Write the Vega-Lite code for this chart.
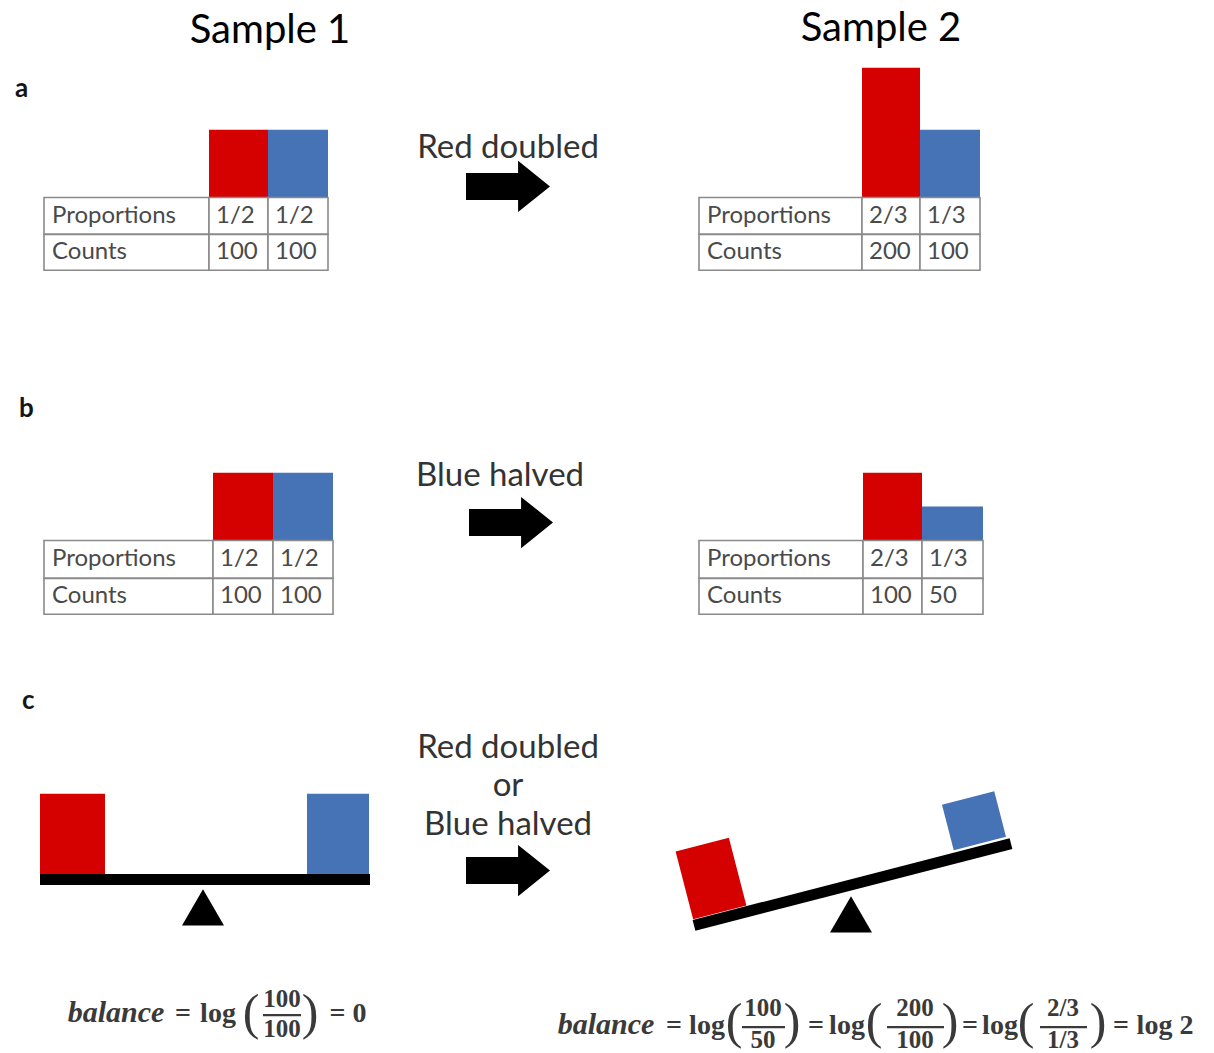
{
  "$schema": "https://vega.github.io/schema/vega-lite/v6.json",
  "width": 1214,
  "height": 1053,
  "autosize": {"type": "fit", "contains": "padding"},
  "padding": 0,
  "background": "white",
  "config": {"view": {"stroke": null}},
  "datasets": {
    "bars": [
      {"panel": "a", "sample": 1, "series": "red", "x": 209, "x2": 268, "y": 130, "y2": 198},
      {"panel": "a", "sample": 1, "series": "blue", "x": 268, "x2": 328, "y": 130, "y2": 198},
      {"panel": "a", "sample": 2, "series": "red", "x": 862, "x2": 920, "y": 68, "y2": 198},
      {"panel": "a", "sample": 2, "series": "blue", "x": 920, "x2": 980, "y": 130, "y2": 198},
      {"panel": "b", "sample": 1, "series": "red", "x": 213, "x2": 273, "y": 474, "y2": 542},
      {"panel": "b", "sample": 1, "series": "blue", "x": 273, "x2": 333, "y": 474, "y2": 542},
      {"panel": "b", "sample": 2, "series": "red", "x": 863, "x2": 922, "y": 474, "y2": 542},
      {"panel": "b", "sample": 2, "series": "blue", "x": 922, "x2": 983, "y": 508, "y2": 542},
      {"panel": "c", "sample": 1, "series": "red", "x": 40, "x2": 105, "y": 796, "y2": 877},
      {"panel": "c", "sample": 1, "series": "blue", "x": 307, "x2": 369, "y": 796, "y2": 877}
    ],
    "cells": [
      {"x": 44, "x2": 209, "y": 198, "y2": 235}, {"x": 209, "x2": 268, "y": 198, "y2": 235}, {"x": 268, "x2": 328, "y": 198, "y2": 235},
      {"x": 44, "x2": 209, "y": 235, "y2": 271}, {"x": 209, "x2": 268, "y": 235, "y2": 271}, {"x": 268, "x2": 328, "y": 235, "y2": 271},
      {"x": 699, "x2": 862, "y": 198, "y2": 235}, {"x": 862, "x2": 920, "y": 198, "y2": 235}, {"x": 920, "x2": 980, "y": 198, "y2": 235},
      {"x": 699, "x2": 862, "y": 235, "y2": 271}, {"x": 862, "x2": 920, "y": 235, "y2": 271}, {"x": 920, "x2": 980, "y": 235, "y2": 271},
      {"x": 44, "x2": 213, "y": 542, "y2": 580}, {"x": 213, "x2": 273, "y": 542, "y2": 580}, {"x": 273, "x2": 333, "y": 542, "y2": 580},
      {"x": 44, "x2": 213, "y": 580, "y2": 616}, {"x": 213, "x2": 273, "y": 580, "y2": 616}, {"x": 273, "x2": 333, "y": 580, "y2": 616},
      {"x": 699, "x2": 863, "y": 542, "y2": 580}, {"x": 863, "x2": 922, "y": 542, "y2": 580}, {"x": 922, "x2": 983, "y": 542, "y2": 580},
      {"x": 699, "x2": 863, "y": 580, "y2": 616}, {"x": 863, "x2": 922, "y": 580, "y2": 616}, {"x": 922, "x2": 983, "y": 580, "y2": 616}
    ],
    "cellText": [
      {"x": 52, "y": 217, "label": "Proportions"}, {"x": 216, "y": 217, "label": "1/2"}, {"x": 275, "y": 217, "label": "1/2"},
      {"x": 52, "y": 253, "label": "Counts"}, {"x": 216, "y": 253, "label": "100"}, {"x": 275, "y": 253, "label": "100"},
      {"x": 707, "y": 217, "label": "Proportions"}, {"x": 869, "y": 217, "label": "2/3"}, {"x": 927, "y": 217, "label": "1/3"},
      {"x": 707, "y": 253, "label": "Counts"}, {"x": 869, "y": 253, "label": "200"}, {"x": 927, "y": 253, "label": "100"},
      {"x": 52, "y": 561, "label": "Proportions"}, {"x": 220, "y": 561, "label": "1/2"}, {"x": 280, "y": 561, "label": "1/2"},
      {"x": 52, "y": 598, "label": "Counts"}, {"x": 220, "y": 598, "label": "100"}, {"x": 280, "y": 598, "label": "100"},
      {"x": 707, "y": 561, "label": "Proportions"}, {"x": 870, "y": 561, "label": "2/3"}, {"x": 929, "y": 561, "label": "1/3"},
      {"x": 707, "y": 598, "label": "Counts"}, {"x": 870, "y": 598, "label": "100"}, {"x": 929, "y": 598, "label": "50"}
    ],
    "titles": [
      {"x": 270, "y": 43, "label": "Sample 1"},
      {"x": 881, "y": 41, "label": "Sample 2"}
    ],
    "letters": [
      {"x": 15, "y": 97, "label": "a"},
      {"x": 19, "y": 418, "label": "b"},
      {"x": 22, "y": 711, "label": "c"}
    ],
    "ops": [
      {"x": 508, "y": 158, "label": "Red doubled"},
      {"x": 500, "y": 487, "label": "Blue halved"},
      {"x": 508, "y": 760, "label": "Red doubled"},
      {"x": 508, "y": 798, "label": "or"},
      {"x": 508, "y": 837, "label": "Blue halved"}
    ],
    "arrows": [
      {"x": 508, "y": 187},
      {"x": 511, "y": 524},
      {"x": 508, "y": 873}
    ],
    "beams": [
      {"x": 40, "y": 882, "x2": 370, "y2": 882},
      {"x": 694, "y": 928, "x2": 1011, "y2": 846}
    ],
    "weights": [
      {"series": "red", "x": 711, "y": 881},
      {"series": "blue", "x": 974, "y": 823}
    ],
    "fulcrums": [
      {"x": 203, "y": 910},
      {"x": 851, "y": 917}
    ],
    "fItalic": [
      {"x": 116, "y": 1025, "label": "balance"},
      {"x": 606, "y": 1037, "label": "balance"}
    ],
    "fMain": [
      {"x": 183, "y": 1025, "label": "="}, {"x": 218, "y": 1025, "label": "log"}, {"x": 348, "y": 1025, "label": "= 0"},
      {"x": 674, "y": 1037, "label": "="}, {"x": 707, "y": 1037, "label": "log"},
      {"x": 816, "y": 1037, "label": "="}, {"x": 847, "y": 1037, "label": "log"},
      {"x": 970, "y": 1037, "label": "="}, {"x": 1000, "y": 1037, "label": "log"},
      {"x": 1121, "y": 1037, "label": "="}, {"x": 1165, "y": 1037, "label": "log 2"}
    ],
    "fFrac": [
      {"x": 282, "y": 1010, "label": "100"}, {"x": 282, "y": 1040, "label": "100"},
      {"x": 763, "y": 1019, "label": "100"}, {"x": 763, "y": 1051, "label": "50"},
      {"x": 915, "y": 1019, "label": "200"}, {"x": 915, "y": 1051, "label": "100"},
      {"x": 1063, "y": 1019, "label": "2/3"}, {"x": 1063, "y": 1051, "label": "1/3"}
    ],
    "fParen": [
      {"x": 251, "y": 1032, "label": "("}, {"x": 310, "y": 1032, "label": ")"},
      {"x": 734, "y": 1041, "label": "("}, {"x": 792, "y": 1041, "label": ")"},
      {"x": 874, "y": 1041, "label": "("}, {"x": 950, "y": 1041, "label": ")"},
      {"x": 1026, "y": 1041, "label": "("}, {"x": 1098, "y": 1041, "label": ")"}
    ],
    "fBars": [
      {"x": 263, "x2": 301, "y": 1018},
      {"x": 742, "x2": 785, "y": 1030},
      {"x": 887, "x2": 944, "y": 1030},
      {"x": 1040, "x2": 1087, "y": 1030}
    ]
  },
  "encoding": {
    "x": {"field": "x", "type": "quantitative", "axis": null, "scale": {"domain": [0, 1214], "nice": false, "zero": false}},
    "y": {"field": "y", "type": "quantitative", "axis": null, "scale": {"domain": [0, 1053], "nice": false, "zero": false, "reverse": true}}
  },
  "layer": [
    {
      "data": {"name": "bars"},
      "mark": {"type": "rect"},
      "encoding": {
        "x2": {"field": "x2"},
        "y2": {"field": "y2"},
        "color": {"field": "series", "type": "nominal", "legend": null, "scale": {"domain": ["red", "blue"], "range": ["#d50000", "#4672b6"]}}
      }
    },
    {
      "data": {"name": "cells"},
      "mark": {"type": "rect", "fill": "white", "stroke": "#8a8a8a", "strokeWidth": 1.6},
      "encoding": {"x2": {"field": "x2"}, "y2": {"field": "y2"}}
    },
    {
      "data": {"name": "cellText"},
      "mark": {"type": "text", "font": "Lato", "fontSize": 24, "letterSpacing": 0.5, "align": "left", "baseline": "middle", "color": "#4a4a4a"},
      "encoding": {"text": {"field": "label"}}
    },
    {
      "data": {"name": "titles"},
      "mark": {"type": "text", "font": "Lato", "fontSize": 40, "letterSpacing": 2, "align": "center", "baseline": "alphabetic", "color": "#000000"},
      "encoding": {"text": {"field": "label"}}
    },
    {
      "data": {"name": "letters"},
      "mark": {"type": "text", "font": "Lato", "fontSize": 26, "fontWeight": "bold", "align": "left", "baseline": "alphabetic", "color": "#151515"},
      "encoding": {"text": {"field": "label"}}
    },
    {
      "data": {"name": "ops"},
      "mark": {"type": "text", "font": "Lato", "fontSize": 33, "letterSpacing": 0.9, "align": "center", "baseline": "alphabetic", "color": "#333333"},
      "encoding": {"text": {"field": "label"}}
    },
    {
      "data": {"name": "arrows"},
      "mark": {"type": "point", "filled": true, "opacity": 1, "color": "#000000", "strokeWidth": 0, "size": 7056,
        "shape": "M-1,-0.32L0.24,-0.32L0.24,-0.61L1,0L0.24,0.61L0.24,0.32L-1,0.32Z"}
    },
    {
      "data": {"name": "beams"},
      "mark": {"type": "rule", "color": "#000000", "strokeWidth": 11, "strokeCap": "butt"},
      "encoding": {"x2": {"field": "x2"}, "y2": {"field": "y2"}}
    },
    {
      "data": {"name": "weights"},
      "mark": {"type": "point", "filled": true, "opacity": 1, "strokeWidth": 0, "size": 4900, "angle": -14.5},
      "encoding": {
        "color": {"field": "series", "type": "nominal", "legend": null, "scale": {"domain": ["red", "blue"], "range": ["#d50000", "#4672b6"]}},
        "shape": {"field": "series", "type": "nominal", "legend": null, "scale": {"domain": ["red", "blue"], "range": ["M-0.786,-1L0.786,-1L0.786,1L-0.786,1Z", "M-0.771,-0.671L0.771,-0.671L0.771,0.671L-0.771,0.671Z"]}}
      }
    },
    {
      "data": {"name": "fulcrums"},
      "mark": {"type": "point", "filled": true, "opacity": 1, "color": "#000000", "strokeWidth": 0, "size": 1764,
        "shape": "M0,-0.86L1,0.86L-1,0.86Z"}
    },
    {
      "data": {"name": "fItalic"},
      "mark": {"type": "text", "font": "Liberation Serif", "fontSize": 30, "fontWeight": "bold", "fontStyle": "italic", "align": "center", "baseline": "alphabetic", "color": "#3a3a3a"},
      "encoding": {"text": {"field": "label"}}
    },
    {
      "data": {"name": "fMain"},
      "mark": {"type": "text", "font": "Liberation Serif", "fontSize": 28, "fontWeight": "bold", "align": "center", "baseline": "alphabetic", "color": "#3a3a3a"},
      "encoding": {"text": {"field": "label"}}
    },
    {
      "data": {"name": "fFrac"},
      "mark": {"type": "text", "font": "Liberation Serif", "fontSize": 25, "fontWeight": "bold", "align": "center", "baseline": "alphabetic", "color": "#3a3a3a"},
      "encoding": {"text": {"field": "label"}}
    },
    {
      "data": {"name": "fParen"},
      "mark": {"type": "text", "font": "Liberation Serif", "fontSize": 50, "align": "center", "baseline": "alphabetic", "color": "#3a3a3a"},
      "encoding": {"text": {"field": "label"}}
    },
    {
      "data": {"name": "fBars"},
      "mark": {"type": "rule", "color": "#3a3a3a", "strokeWidth": 2.2},
      "encoding": {"x2": {"field": "x2"}}
    }
  ]
}
